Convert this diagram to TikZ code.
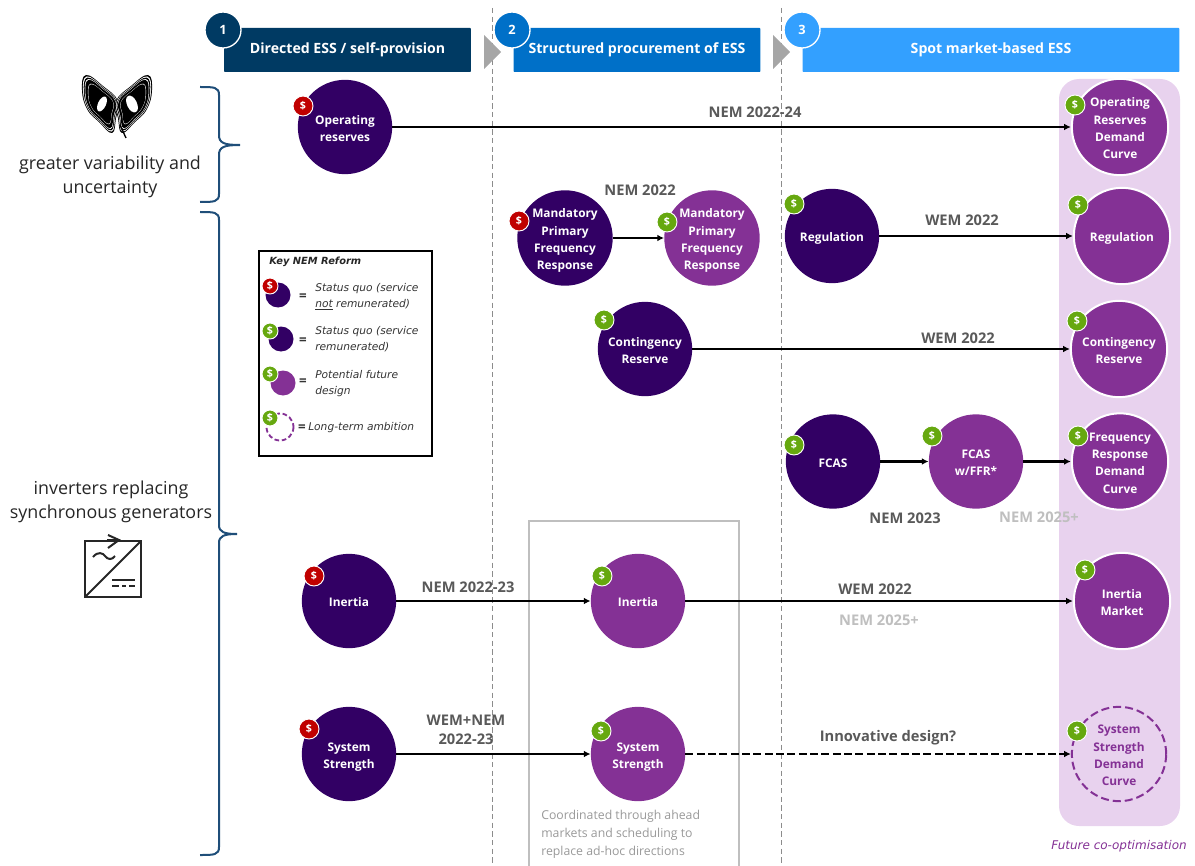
\documentclass[tikz,border=0pt]{standalone}
\usepackage{fontspec}
\setmainfont{Open Sans}
\newfontfamily\widefont{DejaVu Sans}
\usetikzlibrary{arrows.meta,calc}
\definecolor{navy}{HTML}{003A63}
\definecolor{midblue}{HTML}{0070C8}
\definecolor{skyblue}{HTML}{33A0FF}
\definecolor{deep}{HTML}{320064}
\definecolor{plum}{HTML}{843195}
\definecolor{pinkbg}{HTML}{E8D2EE}
\definecolor{badgered}{HTML}{C00000}
\definecolor{badgegreen}{HTML}{66A80F}
\definecolor{txtgrey}{HTML}{595959}
\definecolor{lightgrey}{HTML}{BFBFBF}
\definecolor{bracecol}{HTML}{1F4E79}
\newcommand{\bt}[1]{\raisebox{-1.7pt}[\height][\depth]{\begin{tabular}{@{}c@{}}#1\end{tabular}}}
\newcommand{\wingpath}{plot[smooth cycle,tension=0.75] coordinates {(-16,-29) (1,-18) (16,-3) (14,14) (10,29) (-3,18) (-15,5) (-20,-14)}}
\tikzset{
  px/.style={x=0.75pt,y=-0.75pt},
  bubble/.style={circle,inner sep=0pt,minimum size=94bp*0.75,text=white,
    font=\fontsize{8.9}{13}\selectfont\bfseries},
  dark/.style={bubble,fill=deep},
  light/.style={bubble,fill=plum},
  lightw/.style={light,draw=white,line width=1.5pt,minimum size=96bp*0.75},
  ghost/.style={bubble,draw=plum,dashed,dash pattern=on 6pt off 3pt,line width=1.5pt,text=plum},
  badge/.style={circle,draw=white,line width=0.7pt,inner sep=0pt,minimum size=15pt,text=white,
    font=\fontsize{8}{9}\selectfont\bfseries},
  rb/.style={badge,fill=badgered},
  gb/.style={badge,fill=badgegreen},
  head/.style={inner sep=0pt,minimum height=33pt,text=white,font=\fontsize{10.6}{12}\selectfont\bfseries,rounded corners=0.6pt},
  num/.style={circle,draw=white,line width=1pt,inner sep=0pt,minimum size=27pt,text=white,font=\fontsize{9.6}{12}\selectfont\bfseries},
  lab/.style={text=txtgrey,font=\fontsize{11}{14}\selectfont\bfseries,align=center,inner sep=0pt},
  ghostlab/.style={lab,text=lightgrey},
  side/.style={text=black!85,font=\fontsize{13.4}{18.5}\selectfont,align=center,inner sep=0pt},
  conn/.style={line width=1.6pt,-{Latex[length=5pt,width=5pt]},black},
  vline/.style={draw=black!45,dashed,dash pattern=on 4pt off 2.5pt,line width=0.5pt},
  brace/.style={draw=bracecol,line width=1.5pt},
  keytxt/.style={font=\widefont\fontsize{8}{12}\selectfont\itshape,text=black!80,align=left,inner sep=0pt,anchor=west},
  eq/.style={font=\fontsize{10}{10}\selectfont\bfseries,text=black!80,inner sep=0pt},
}
\begin{document}
\begin{tikzpicture}[px]
\useasboundingbox (0,0) rectangle (1195,866);
% backdrop
\draw[vline] (492,8) -- (492,866);
\draw[vline] (781,8) -- (781,866);
\fill[pinkbg,rounded corners=15pt] (1059,79) rectangle (1180,826);
\draw[lightgrey,line width=1.5pt] (529,866) -- (529,521) -- (739,521) -- (739,866);
% headers
\node[head,fill=navy,minimum width=185pt] (h1) at (347.5,50) {Directed ESS / self-provision};
\node[head,fill=midblue,minimum width=185pt] (h2) at (637,50) {Structured procurement of ESS};
\node[head,fill=skyblue,minimum width=282.5pt] (h3) at (991,50) {Spot market-based ESS};
\node[num,fill=navy] (n1) at (223,30) {1};
\node[num,fill=midblue] (n2) at (512,30) {2};
\node[num,fill=skyblue] (n3) at (802,30) {3};
\fill[black!35] (484,35) -- (501,52) -- (484,69) -- cycle;
\fill[black!35] (773,35) -- (790,52) -- (773,69) -- cycle;
% bubbles
\node[dark] (op) at (345,127) {\bt{Operating\\reserves}};
\node[rb] (opb) at (303,106) {\$};
\node[dark] (mp) at (565,238) {\bt{Mandatory\\Primary\\Frequency\\Response}};
\node[rb] (mpb) at (519,221) {\$};
\node[light] (mf) at (712,238) {\bt{Mandatory\\Primary\\Frequency\\Response}};
\node[gb] (mfb) at (667,222) {\$};
\node[dark] (rg) at (832,236) {\bt{Regulation}};
\node[gb] (rgb) at (794,204) {\$};
\node[dark] (ct) at (645,349) {\bt{Contingency\\Reserve}};
\node[gb] (ctb) at (604,320) {\$};
\node[dark] (fc) at (833,461.5) {\bt{FCAS}};
\node[gb] (fcb) at (794,445) {\$};
\node[light] (ff) at (976,461.5) {\bt{FCAS\\w/FFR*}};
\node[gb] (ffb) at (932,436) {\$};
\node[dark] (in) at (349,601) {\bt{Inertia}};
\node[rb] (inb) at (314,576) {\$};
\node[light] (im) at (638,601) {\bt{Inertia}};
\node[gb] (imb) at (602,576) {\$};
\node[dark] (ss) at (349,754) {\bt{System\\Strength}};
\node[rb] (ssb) at (309,729) {\$};
\node[light] (sf) at (638,754) {\bt{System\\Strength}};
\node[gb] (sfb) at (601,731) {\$};
% future column
\node[lightw] (ord) at (1120,127) {\bt{Operating\\Reserves\\Demand\\Curve}};
\node[gb] (ordb) at (1075,105) {\$};
\node[lightw] (rgf) at (1122,236) {\bt{Regulation}};
\node[gb] (rgfb) at (1078,205) {\$};
\node[lightw] (ctf) at (1119,349) {\bt{Contingency\\Reserve}};
\node[gb] (ctfb) at (1077,321) {\$};
\node[lightw] (frd) at (1120,461.5) {\bt{Frequency\\Response\\Demand\\Curve}};
\node[gb] (frdb) at (1078,436) {\$};
\node[lightw] (ima) at (1122,601) {\bt{Inertia\\Market}};
\node[gb] (imab) at (1085,570) {\$};
\node[ghost] (ssd) at (1119,754) {\bt{System\\Strength\\Demand\\Curve}};
\node[gb] (ssdb) at (1077,731) {\$};
% connectors
\draw[conn] (op) -- (ord);
\draw[conn] (mp) -- (mf);
\draw[conn] (rg) -- (rgf);
\draw[conn] (ct) -- (ctf);
\draw[conn] (fc) -- (ff);
\draw[conn] (ff) -- (frd);
\draw[conn] (in) -- (im);
\draw[conn] (im) -- (ima);
\draw[conn] (ss) -- (sf);
\draw[conn,dashed,dash pattern=on 6pt off 2.5pt] (sf) -- (ssd);
% labels
\node[lab] (l1) at (755,112) {NEM 2022-24};
\node[lab] (l2) at (640,190) {NEM 2022};
\node[lab] (l3) at (962,220) {WEM 2022};
\node[lab] (l4) at (958,338) {WEM 2022};
\node[lab] (l5) at (905,518) {NEM 2023};
\node[ghostlab] (l6) at (1039,517) {NEM 2025+};
\node[lab] (l7) at (468,587) {NEM 2022-23};
\node[lab] (l8) at (875,589) {WEM 2022};
\node[ghostlab] (l9) at (879,620) {NEM 2025+};
\node[lab] (l10) at (466,730) {WEM+NEM\\2022-23};
\node[lab] (l11) at (888,738) {Innovative design?};
\node[font=\fontsize{9.2}{13.5}\selectfont,text=black!40,align=left,inner sep=0pt,anchor=north west] (co) at (541,810) {Coordinated through ahead\\markets and scheduling to\\replace ad-hoc directions};
\node[font=\widefont\fontsize{9}{10}\selectfont\itshape,text=plum,inner sep=0pt] (fco) at (1119,846) {Future co-optimisation};
% side text
\node[side] (s1) at (110,177) {greater variability and\\uncertainty};
\node[side] (s2) at (111,502) {inverters replacing\\synchronous generators};
% braces
\draw[brace] (200,87) .. controls (214,87) and (219,87) .. (219,95) -- (219,135) .. controls (219,143) and (224,145) .. (240,145) .. controls (224,145) and (219,147) .. (219,155) -- (219,194) .. controls (219,202) and (214,202) .. (200,202);
\draw[brace] (200,212) .. controls (214,212) and (219,212) .. (219,220) -- (219,525) .. controls (219,532) and (224,534) .. (237,534) .. controls (224,534) and (219,536) .. (219,543) -- (219,847) .. controls (219,855) and (214,855) .. (200,855);
% legend
\draw[black,line width=0.8pt] (259,251) rectangle (432,456);
\node[font=\widefont\fontsize{7.4}{10}\selectfont\bfseries\itshape,text=black!85,inner sep=0pt,anchor=west] (kt) at (269,262) {Key NEM Reform};
\fill[deep] (278,295) circle (12.5);
\node[rb,minimum size=12pt] (k1) at (270,286) {\$};
\node[eq] at (303,297) {=};
\node[keytxt] at (315,297) {Status quo (service\\\underline{not} remunerated)};
\fill[deep] (281,339) circle (12.5);
\node[gb,minimum size=12pt] (k2) at (270,331) {\$};
\node[eq] at (303,341) {=};
\node[keytxt] at (315,339) {Status quo (service\\remunerated)};
\fill[plum] (283,383) circle (12.5);
\node[gb,minimum size=12pt] (k3) at (270,374) {\$};
\node[eq] at (303,382) {=};
\node[keytxt] at (315,384) {Potential future\\design};
\draw[plum,line width=1.4pt,dashed,dash pattern=on 3.5pt off 2pt] (280,427) circle (13.5);
\node[gb,minimum size=12pt] (k4) at (270,418) {\$};
\node[eq] at (302,428) {=};
\node[keytxt] at (308,428) {Long-term ambition};
% inverter icon
\begin{scope}[black!85,line width=1.5pt]
\draw (85,541) rectangle (141,597);
\draw (85,597) -- (141,541);
\draw (107,540) -- (119,540);
\draw (108,535) -- (119,540) -- (108,548);
\draw (93,557) .. controls (98,551) and (103,553) .. (105,556) .. controls (108,560) and (112,560) .. (115,556);
\draw (112,580) -- (135,580);
\draw (112,586) -- (119,586) (122,586) -- (126,586) (129,586) -- (135,586);
\end{scope}
% butterfly
\begin{scope}[shift={(102,104)}]
  \foreach \s/\c in {1/black,0.95/white,0.91/black,0.86/white,0.83/black,0.7/white,0.68/black}{
    \fill[\c,scale=\s] \wingpath;
  }
  \fill[white,rotate=-25] (0,0) ellipse (4 and 8);
\end{scope}
\begin{scope}[shift={(132,104)},xscale=-1]
  \foreach \s/\c in {1/black,0.95/white,0.91/black,0.86/white,0.83/black,0.7/white,0.68/black}{
    \fill[\c,scale=\s] \wingpath;
  }
  \fill[white,rotate=-25] (0,0) ellipse (5 and 9);
\end{scope}
\draw[black,line width=1pt] (120,125) -- (126,138);
\end{tikzpicture}
\end{document}
